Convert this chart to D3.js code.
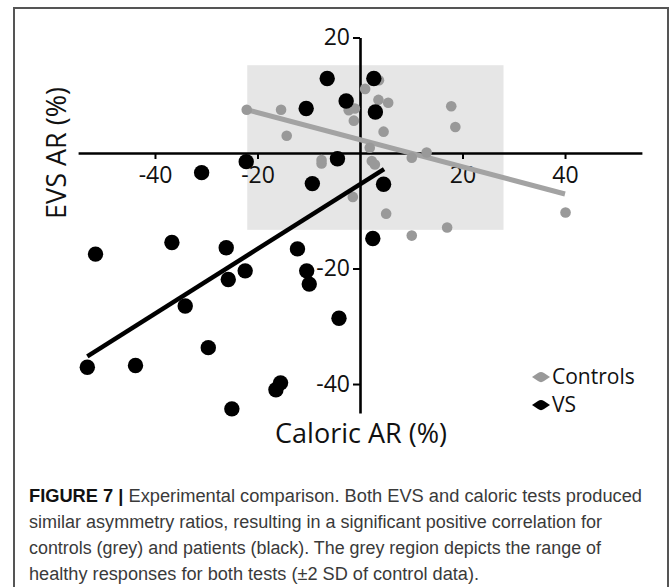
<!DOCTYPE html>
<html>
<head>
<meta charset="utf-8">
<script src="https://cdn.jsdelivr.net/npm/d3@7"></script>
<style>
  html, body { margin: 0; padding: 0; background: #fff; }
  svg { display: block; }
</style>
</head>
<body>
<svg id="chart" width="672" height="587"></svg>
<script>
// ---- data ----
const controlsX = [-22.1, -15.4, -14.3, -7.5, -7.5, -4.5, -2.2, -1.0, -1.2, 1.0, 3.7, 3.6, 5.5, 4.6, 1.9, 2.3, 2.9, -1.4, 5.1, 10.1, 13.0, 17.8, 18.6, 17.0, 10.1, 40.1];
const controlsY = [7.5, 7.5, 3.0, -1.2, -1.8, -0.6, 7.4, 7.7, 5.6, 11.1, 12.6, 9.2, 8.7, 3.7, 0.9, -1.4, -2.0, -7.6, -10.5, -0.8, 0.1, 8.1, 4.5, -12.9, -14.3, -10.3];
const vsX = [-6.4, 2.7, -10.5, -2.7, 3.0, -22.2, -30.9, -4.4, -9.3, 4.6, 2.5, -51.6, -36.7, -26.1, -12.2, -22.4, -10.4, -9.9, -25.7, -34.1, -4.1, -29.6, -53.2, -43.8, -15.5, -16.4, -25.0];
const vsY = [12.9, 12.9, 7.7, 9.0, 7.1, -1.5, -3.4, -1.0, -5.3, -5.4, -14.8, -17.5, -15.5, -16.4, -16.6, -20.4, -20.4, -22.7, -21.9, -26.5, -28.6, -33.7, -37.1, -36.8, -39.8, -41.0, -44.3];
// regression line end points
const controlsFitX = [-22.5, 40];
const controlsFitY = [7.6, -7.1];
const vsFitX = [-53.2, 4.7];
const vsFitY = [-35.2, -2.8];
// healthy range (±2 SD of controls)
const healthyX = [-22, 28];
const healthyY = [-13.3, 15.2];
const xTicks = [-40, -20, 20, 40];
const yTicks = [20, -20, -40];
const xDomain = [-55, 55];
const yDomain = [-45, 20];
const seriesNames = ["Controls", "VS"];
const xTitle = "Caloric AR (%)";
const yTitle = "EVS AR (%)";
const captionBold = "FIGURE 7 |";
const captionLines = [
  " Experimental comparison. Both EVS and caloric tests produced",
  "similar asymmetry ratios, resulting in a significant positive correlation for",
  "controls (grey) and patients (black). The grey region depicts the range of",
  "healthy responses for both tests (\u00b12 SD of control data)."
];

// ---- drawing ----
const svg = d3.select("#chart");
const chartFont = "'Open Sans', 'DejaVu Sans', sans-serif";

// frame
svg.append("rect")
  .attr("x", 14).attr("y", 8).attr("width", 654).attr("height", 620)
  .attr("fill", "none").attr("stroke", "#555").attr("stroke-width", 2);

const x = d3.scaleLinear().domain(xDomain).range([78.1, 641.9]);
const y = d3.scaleLinear().domain(yDomain).range([412.9, 37.5]);

// healthy region
svg.append("rect")
  .attr("x", x(healthyX[0])).attr("y", y(healthyY[1]))
  .attr("width", x(healthyX[1]) - x(healthyX[0]))
  .attr("height", y(healthyY[0]) - y(healthyY[1]))
  .attr("fill", "#e6e6e6");

// axes
const xAxis = d3.axisBottom(x).tickValues(xTicks).tickSize(6).tickPadding(8).tickSizeOuter(0)
  .tickFormat(d => (d < 0 ? "-" : "") + Math.abs(d));
const gx = svg.append("g").attr("transform", `translate(0,${y(0)})`).call(xAxis);
const yAxis = d3.axisLeft(y).tickValues(yTicks).tickSize(7).tickPadding(3).tickSizeOuter(0)
  .tickFormat(d => (d < 0 ? "-" : "") + Math.abs(d));
const gy = svg.append("g").attr("transform", `translate(${x(0)},0)`).call(yAxis);

[gx, gy].forEach(g => {
  g.select(".domain").attr("stroke", "#000").attr("stroke-width", 2.6);
  g.selectAll(".tick line").attr("stroke", "#000").attr("stroke-width", 2);
  g.selectAll(".tick text")
    .attr("fill", "#111")
    .style("font-family", chartFont)
    .style("font-size", "23px");
});

// regression lines
const line = d3.line().x(d => x(d[0])).y(d => y(d[1]));
svg.append("path")
  .datum(controlsFitX.map((v, i) => [v, controlsFitY[i]]))
  .attr("d", line).attr("stroke", "#a3a3a3").attr("stroke-width", 5).attr("fill", "none");

// control points
svg.append("g").selectAll("circle")
  .data(controlsX.map((v, i) => [v, controlsY[i]]))
  .join("circle")
  .attr("cx", d => x(d[0])).attr("cy", d => y(d[1])).attr("r", 5.3)
  .attr("fill", "#999");

// VS points
svg.append("g").selectAll("circle")
  .data(vsX.map((v, i) => [v, vsY[i]]))
  .join("circle")
  .attr("cx", d => x(d[0])).attr("cy", d => y(d[1])).attr("r", 7.7)
  .attr("fill", "#000");

svg.append("path")
  .datum(vsFitX.map((v, i) => [v, vsFitY[i]]))
  .attr("d", line).attr("stroke", "#000").attr("stroke-width", 4.5).attr("fill", "none");

// axis titles
svg.append("text")
  .attr("x", 361).attr("y", 443)
  .attr("text-anchor", "middle")
  .style("font-family", chartFont).style("font-size", "27px").attr("fill", "#111")
  .text(xTitle);
svg.append("text")
  .attr("transform", "translate(66,153) rotate(-90)")
  .attr("text-anchor", "middle")
  .style("font-family", chartFont).style("font-size", "27px").attr("fill", "#111")
  .text(yTitle);

// legend
const legendColors = ["#999", "#000"];
const legendY = [377, 405];
seriesNames.forEach((name, i) => {
  const g = svg.append("g").attr("transform", `translate(541,${legendY[i]})`);
  g.append("path").attr("d", "M-9,0 L-3,-4 A5,5 0 0 1 3,-4 L9,0 L3,4 A5,5 0 0 1 -3,4 Z")
    .attr("fill", legendColors[i]);
  g.append("text").attr("x", 11).attr("y", 7)
    .style("font-family", chartFont).style("font-size", "21px").attr("fill", "#111")
    .text(name);
});

// caption
const capFont = "'Liberation Sans', Arial, sans-serif";
const capBase = [502, 528, 554, 580];
const capEnd = [642, 602, 601, 479];
captionLines.forEach((t, i) => {
  const txt = svg.append("text")
    .attr("x", 29).attr("y", capBase[i])
    .style("font-family", capFont).style("font-size", "18px").attr("fill", "#3a3a3a")
    .attr("textLength", capEnd[i] - 29).attr("lengthAdjust", "spacingAndGlyphs");
  if (i === 0) {
    txt.append("tspan").attr("font-weight", "bold").attr("fill", "#111").text(captionBold);
  }
  txt.append("tspan").text(t);
});
</script>
</body>
</html>
